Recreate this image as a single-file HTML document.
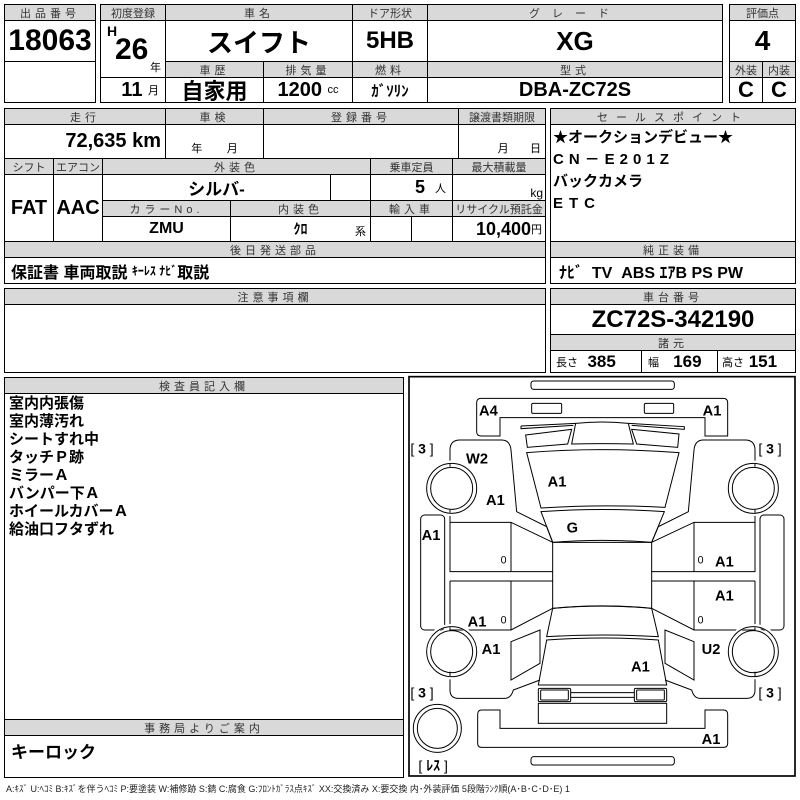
<!DOCTYPE html>
<html><head><meta charset="utf-8"><style>
body{margin:0;width:800px;height:800px;background:#fff;position:relative;overflow:hidden;font-family:"Liberation Sans","Noto Sans CJK JP",sans-serif;}
.c{position:absolute;border:1px solid #000;box-sizing:border-box;display:flex;align-items:center;justify-content:center;background:#fff;color:#000;white-space:nowrap;}
.h{background:#d9d9d9;font-size:11px;letter-spacing:4px;color:#333;}
.b{font-family:"Liberation Sans Narrow","Liberation Sans","Noto Sans CJK JP",sans-serif;font-weight:bold;}
.o{position:absolute;border:2px solid #000;box-sizing:border-box;}
.s{font-size:11px;font-weight:normal;}
</style></head><body>
<!-- top -->
<div class="c h" style="left:4px;top:4px;width:92px;height:17px">出品番号</div>
<div class="c b" style="left:4px;top:20px;width:92px;height:42px;font-size:30px">18063</div>
<div class="c" style="left:4px;top:61px;width:92px;height:42px"></div>
<div class="c h" style="left:100px;top:4px;width:66px;height:17px;letter-spacing:0">初度登録</div>
<div class="c b" style="left:100px;top:20px;width:66px;height:58px;font-size:30px"><span style="position:absolute;left:6px;top:2px;font-size:14px">H</span><span style="position:absolute;left:14px;top:12px">26</span><span class="s" style="position:absolute;right:4px;bottom:2px">年</span></div>
<div class="c b" style="left:100px;top:77px;width:66px;height:26px;font-size:20px;justify-content:flex-end;padding-right:6px">11&nbsp;<span class="s">月</span></div>
<div class="c h" style="left:165px;top:4px;width:188px;height:17px">車名</div>
<div class="c b" style="left:165px;top:20px;width:188px;height:42px;font-size:26px">スイフト</div>
<div class="c h" style="left:352px;top:4px;width:76px;height:17px;letter-spacing:0">ドア形状</div>
<div class="c b" style="left:352px;top:20px;width:76px;height:42px;font-size:24px">5HB</div>
<div class="c h" style="left:427px;top:4px;width:296px;height:17px;letter-spacing:12px">グレード</div>
<div class="c b" style="left:427px;top:20px;width:296px;height:42px;font-size:26px">XG</div>
<div class="c h" style="left:165px;top:61px;width:99px;height:17px">車歴</div>
<div class="c h" style="left:263px;top:61px;width:90px;height:17px">排気量</div>
<div class="c h" style="left:352px;top:61px;width:76px;height:17px">燃料</div>
<div class="c h" style="left:427px;top:61px;width:296px;height:17px">型式</div>
<div class="c b" style="left:165px;top:77px;width:99px;height:26px;font-size:22px">自家用</div>
<div class="c b" style="left:263px;top:77px;width:90px;height:26px;font-size:20px">1200&nbsp;<span class="s">cc</span></div>
<div class="c b" style="left:352px;top:77px;width:76px;height:26px;font-size:15px">ｶﾞｿﾘﾝ</div>
<div class="c b" style="left:427px;top:77px;width:296px;height:26px;font-size:20px">DBA-ZC72S</div>
<div class="c h" style="left:729px;top:4px;width:67px;height:17px;letter-spacing:0">評価点</div>
<div class="c b" style="left:729px;top:20px;width:67px;height:42px;font-size:28px">4</div>
<div class="c h" style="left:729px;top:61px;width:34px;height:17px;letter-spacing:0">外装</div>
<div class="c h" style="left:762px;top:61px;width:34px;height:17px;letter-spacing:0">内装</div>
<div class="c b" style="left:729px;top:77px;width:34px;height:26px;font-size:22px">C</div>
<div class="c b" style="left:762px;top:77px;width:34px;height:26px;font-size:22px">C</div>

<!-- second -->
<div class="c h" style="left:4px;top:108px;width:162px;height:17px">走行</div>
<div class="c h" style="left:165px;top:108px;width:99px;height:17px">車検</div>
<div class="c h" style="left:263px;top:108px;width:196px;height:17px">登録番号</div>
<div class="c h" style="left:458px;top:108px;width:88px;height:17px;letter-spacing:0">譲渡書類期限</div>
<div class="c b" style="left:4px;top:124px;width:162px;height:35px;font-size:20px;justify-content:flex-end;padding-right:4px">72,635 km</div>
<div class="c" style="left:165px;top:124px;width:99px;height:35px;font-size:11px;align-items:flex-end;padding-bottom:2px">年&nbsp;&nbsp;&nbsp;&nbsp;&nbsp;&nbsp;&nbsp;&nbsp;月</div>
<div class="c" style="left:263px;top:124px;width:196px;height:35px"></div>
<div class="c" style="left:458px;top:124px;width:88px;height:35px;font-size:11px;align-items:flex-end;padding-bottom:2px;justify-content:flex-end;padding-right:4px">月&nbsp;&nbsp;&nbsp;&nbsp;&nbsp;&nbsp;&nbsp;日</div>
<div class="c h" style="left:4px;top:158px;width:50px;height:17px;letter-spacing:0">シフト</div>
<div class="c h" style="left:53px;top:158px;width:50px;height:17px;letter-spacing:0">エアコン</div>
<div class="c h" style="left:102px;top:158px;width:269px;height:17px">外装色</div>
<div class="c h" style="left:370px;top:158px;width:83px;height:17px;letter-spacing:0">乗車定員</div>
<div class="c h" style="left:452px;top:158px;width:94px;height:17px;letter-spacing:0">最大積載量</div>
<div class="c b" style="left:4px;top:174px;width:50px;height:68px;font-size:20px">FAT</div>
<div class="c b" style="left:53px;top:174px;width:50px;height:68px;font-size:20px">AAC</div>
<div class="c b" style="left:102px;top:174px;width:229px;height:27px;font-size:17px">シルバ-</div>
<div class="c" style="left:330px;top:174px;width:41px;height:27px"></div>
<div class="c b" style="left:370px;top:174px;width:83px;height:27px;font-size:18px;justify-content:flex-end;padding-right:6px">5&nbsp;&nbsp;<span class="s">人</span></div>
<div class="c" style="left:452px;top:174px;width:94px;height:27px;font-size:12px;justify-content:flex-end;padding-right:2px;align-items:flex-end">kg</div>
<div class="c h" style="left:102px;top:200px;width:129px;height:17px">カラーNo.</div>
<div class="c h" style="left:230px;top:200px;width:141px;height:17px">内装色</div>
<div class="c h" style="left:370px;top:200px;width:83px;height:17px">輸入車</div>
<div class="c h" style="left:452px;top:200px;width:94px;height:17px;letter-spacing:0">リサイクル預託金</div>
<div class="c b" style="left:102px;top:216px;width:129px;height:26px;font-size:16px">ZMU</div>
<div class="c b" style="left:230px;top:216px;width:141px;height:26px;font-size:14px">ｸﾛ<span class="s" style="position:absolute;right:4px;bottom:2px">系</span></div>
<div class="c" style="left:370px;top:216px;width:42px;height:26px"></div>
<div class="c" style="left:411px;top:216px;width:42px;height:26px"></div>
<div class="c b" style="left:452px;top:216px;width:94px;height:26px;font-size:18px;justify-content:flex-end;padding-right:3px">10,400<span class="s">円</span></div>
<div class="c h" style="left:4px;top:241px;width:542px;height:17px">後日発送部品</div>
<div class="c" style="left:4px;top:257px;width:542px;height:27px;justify-content:flex-start;padding-left:6px;font-weight:bold;font-size:16px">保証書&nbsp;車両取説&nbsp;<span style="font-size:12px">ｷｰﾚｽ&nbsp;ﾅﾋﾞ</span>取説</div>
<div class="c h" style="left:550px;top:108px;width:246px;height:17px;letter-spacing:8px">セールスポイント</div>
<div class="c" style="left:550px;top:124px;width:246px;height:118px;display:block;font-weight:bold;font-size:15px;line-height:22px;padding:2px 0 0 2px">★オークションデビュー★<br><span style="letter-spacing:5px">CN－E201Z</span><br>バックカメラ<br><span style="letter-spacing:6px">ETC</span></div>
<div class="c h" style="left:550px;top:241px;width:246px;height:17px">純正装備</div>
<div class="c b" style="left:550px;top:257px;width:246px;height:27px;font-size:16px;justify-content:flex-start;padding-left:8px">ﾅﾋﾞ&nbsp;&nbsp;TV&nbsp;&nbsp;ABS&nbsp;ｴｱB&nbsp;PS&nbsp;PW</div>

<!-- third -->
<div class="c h" style="left:4px;top:288px;width:542px;height:17px">注意事項欄</div>
<div class="c" style="left:4px;top:304px;width:542px;height:69px"></div>
<div class="c h" style="left:550px;top:288px;width:246px;height:17px">車台番号</div>
<div class="c b" style="left:550px;top:304px;width:246px;height:31px;font-size:24px">ZC72S-342190</div>
<div class="c h" style="left:550px;top:334px;width:246px;height:17px">諸元</div>
<div class="c b" style="left:550px;top:350px;width:92px;height:23px;font-size:17px;justify-content:flex-start;padding-left:5px"><span class="s">長さ</span>&nbsp;&nbsp;385</div>
<div class="c b" style="left:641px;top:350px;width:77px;height:23px;font-size:17px;justify-content:flex-start;padding-left:6px"><span class="s">幅</span>&nbsp;&nbsp;&nbsp;169</div>
<div class="c b" style="left:717px;top:350px;width:79px;height:23px;font-size:17px;justify-content:flex-start;padding-left:4px"><span class="s">高さ</span>&nbsp;151</div>

<!-- bottom left -->
<div class="c h" style="left:4px;top:377px;width:400px;height:17px">検査員記入欄</div>
<div class="c" style="left:4px;top:393px;width:400px;height:327px;display:block;font-weight:bold;font-size:15px;line-height:18px;padding:1px 0 0 4px">室内内張傷<br>室内薄汚れ<br>シートすれ中<br>タッチＰ跡<br>ミラーＡ<br>バンパー下Ａ<br>ホイールカバーＡ<br>給油口フタずれ</div>
<div class="c h" style="left:4px;top:719px;width:400px;height:17px">事務局よりご案内</div>
<div class="c" style="left:4px;top:735px;width:400px;height:43px;align-items:flex-start;justify-content:flex-start;padding:2px 0 0 6px;font-weight:bold;font-size:17px">キーロック</div>
<div style="position:absolute;left:6px;top:782px;font-size:9px;white-space:nowrap;color:#222">A:ｷｽﾞ U:ﾍｺﾐ B:ｷｽﾞを伴うﾍｺﾐ P:要塗装 W:補修跡 S:錆 C:腐食 G:ﾌﾛﾝﾄｶﾞﾗｽ点ｷｽﾞ XX:交換済み X:要交換 内･外装評価 5段階ﾗﾝｸ順(A･B･C･D･E) 1</div>

<!-- diagram -->
<svg style="position:absolute;left:405px;top:370px" width="395" height="430" viewBox="0 0 1185 1290">
<g fill="none" stroke="#000" stroke-width="3">
<rect x="12" y="20" width="1158" height="1198" stroke-width="5"/>
<rect x="378" y="33" width="430" height="25" rx="8"/>
<path d="M228,85 H955 Q968,85 968,98 V198 H900 V143 H285 V198 H228 Q215,198 215,185 V98 Q215,85 228,85 Z"/>
<rect x="380" y="100" width="90" height="30" rx="4"/>
<rect x="718" y="100" width="88" height="30" rx="4"/>
<path d="M348,168 L512,160 M348,168 L348,176 L505,166 M670,160 L838,170 L838,178 L680,166"/>
<path d="M362,195 L500,178 L488,222 L367,232 Z"/>
<path d="M680,178 L822,192 L818,232 L695,222 Z"/>
<path d="M512,160 Q592,152 670,160 L685,222 Q592,220 500,222 Z"/>
<path d="M365,248 Q592,230 822,248 L780,412 Q592,402 408,414 Z"/>
<path d="M408,425 Q592,412 778,425 L740,517 Q592,505 443,517 Z"/>
<path d="M443,517 H740 V715 Q592,702 443,715 Z"/>
<path d="M443,715 Q592,700 740,715 L760,800 Q592,790 425,800 Z"/>
<path d="M425,810 Q592,798 760,810 L785,945 H400 Z"/>
<rect x="400" y="955" width="97" height="40" rx="4"/>
<rect x="407" y="960" width="83" height="30" rx="2"/>
<rect x="688" y="955" width="97" height="40" rx="4"/>
<rect x="695" y="960" width="83" height="30" rx="2"/>
<path d="M497,968 H688 M497,982 H688"/>
<rect x="400" y="1000" width="385" height="60"/>
<!-- left front fender -->
<path d="M135,290 V240 Q135,210 165,210 H290 Q315,210 318,240 L335,425 L425,470 L443,517"/>
<path d="M135,420 V457 H318 L443,517 M318,457 V605"/>
<path d="M135,457 V605 H443 M135,633 H443 M135,633 V780 H318 L443,715 M318,633 V780"/>
<path d="M1050,290 V240 Q1050,210 1020,210 H895 Q870,210 867,240 L850,425 L760,470 L740,517"/>
<path d="M1050,420 V457 H867 L740,517 M867,457 V605"/>
<path d="M1050,457 V605 H740 M1050,633 H740 M1050,633 V780 H867 L740,715 M867,633 V780"/>
<!-- rear quarter -->
<path d="M318,815 L405,780 L405,880 L318,930 Z"/>
<path d="M135,905 V960 Q135,985 160,985 H300 Q318,985 325,960 L405,930"/>
<path d="M867,815 L780,780 L780,880 L867,930 Z"/>
<path d="M1050,905 V960 Q1050,985 1025,985 H885 Q867,985 860,960 L780,930"/>
<rect x="47" y="435" width="72" height="345" rx="12"/>
<rect x="1065" y="435" width="72" height="345" rx="12"/>
<path d="M230,1020 H285 V1075 H900 V1020 H955 Q968,1020 968,1033 V1120 Q968,1132 955,1132 H230 Q218,1132 218,1120 V1033 Q218,1020 230,1020 Z"/>
<rect x="378" y="1160" width="430" height="25" rx="8"/>
<circle cx="140" cy="355" r="78" stroke="#fff" stroke-width="10"/>
<circle cx="140" cy="355" r="75"/><circle cx="140" cy="355" r="63"/>
<circle cx="140" cy="845" r="78" stroke="#fff" stroke-width="10"/>
<circle cx="140" cy="845" r="75"/><circle cx="140" cy="845" r="63"/>
<circle cx="1045" cy="355" r="78" stroke="#fff" stroke-width="10"/>
<circle cx="1045" cy="355" r="75"/><circle cx="1045" cy="355" r="63"/>
<circle cx="1045" cy="845" r="78" stroke="#fff" stroke-width="10"/>
<circle cx="1045" cy="845" r="75"/><circle cx="1045" cy="845" r="63"/>
<circle cx="97" cy="1075" r="72"/><circle cx="97" cy="1075" r="60"/>
</g>
<g font-family="Liberation Sans, sans-serif" font-weight="bold" font-size="44" fill="#000">
<text x="222" y="137">A4</text><text x="893" y="137">A1</text>
<text x="183" y="280">W2</text><text x="428" y="350">A1</text>
<text x="243" y="405">A1</text><text x="485" y="487">G</text>
<text x="50" y="510">A1</text><text x="930" y="590">A1</text>
<text x="930" y="692">A1</text><text x="188" y="770">A1</text>
<text x="230" y="852">A1</text><text x="890" y="852">U2</text>
<text x="678" y="905">A1</text><text x="890" y="1122">A1</text>
</g>
<g font-family="Liberation Sans, sans-serif" font-size="32" fill="#000">
<text x="287" y="580">0</text><text x="878" y="580">0</text>
<text x="287" y="760">0</text><text x="878" y="760">0</text>
</g>
<g font-family="Liberation Sans, sans-serif" font-size="42" fill="#000">
<text x="16" y="250">[ <tspan font-weight="bold">3</tspan> ]</text>
<text x="1060" y="250">[ <tspan font-weight="bold">3</tspan> ]</text>
<text x="16" y="982">[ <tspan font-weight="bold">3</tspan> ]</text>
<text x="1060" y="982">[ <tspan font-weight="bold">3</tspan> ]</text>
<text x="40" y="1202" font-family="Liberation Sans, Noto Sans CJK JP, sans-serif">[ <tspan font-weight="bold">ﾚｽ</tspan> ]</text>
</g>
</svg>
</body></html>
